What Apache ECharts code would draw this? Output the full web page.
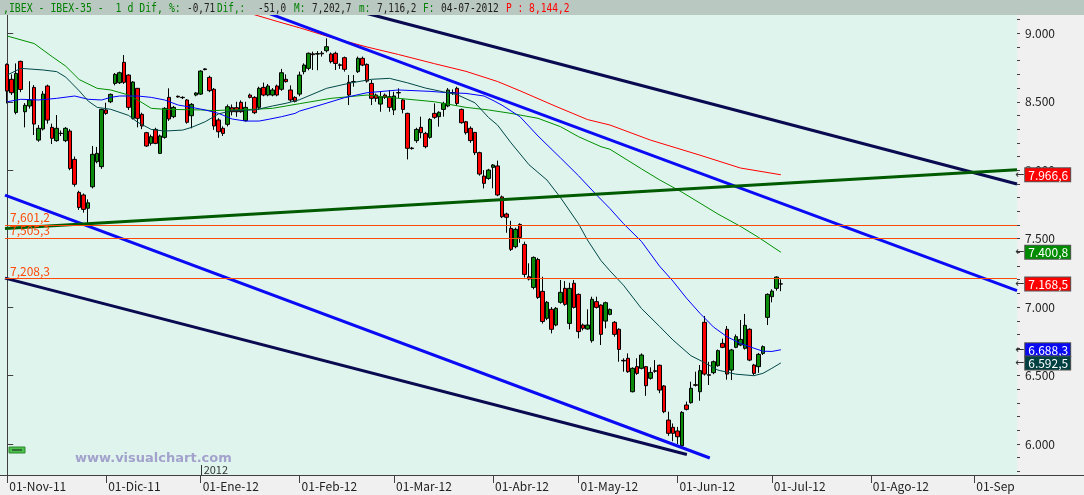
<!DOCTYPE html>
<html><head><meta charset="utf-8">
<script src="https://cdn.jsdelivr.net/npm/echarts@6.0.0/dist/echarts.min.js"></script>
<style>html,body{margin:0;padding:0;background:#F0F0F0}#c{width:1084px;height:495px}</style>
</head><body><div id="c"></div>
<script>
// ---------- DATA ----------
const holidays = ['2011-12-26','2012-04-06','2012-04-09','2012-05-01'];
const slotCount = 225;
const monthNames = ['Ene','Feb','Mar','Abr','May','Jun','Jul','Ago','Sep','Oct','Nov','Dic'];

const opens  = [8773,8664,8422,8795,8427,8469,8605,8220,8301,8615,8313,8216,8270,8216,8286,8079,7838,7819,7722,7879,8062,8026,8440,8500,8634,8639,8788,8695,8379,8598,8408,8274,8196,8298,8123,8240,8532,8391,8540,8532,8513,8398,8549,8556,8740,8678,8591,8367,8306,8335,8457,8457,8496,8362,8549,8532,8459,8605,8549,8549,8615,8591,8664,8586,8532,8556,8720,8744,8850,8848,8855,8873,8849,8854,8770,8822,8642,8648,8720,8817,8773,8634,8549,8483,8549,8537,8440,8567,8513,8415,8162,8216,8313,8269,8240,8415,8391,8444,8469,8567,8598,8444,8354,8306,8276,8128,7957,7940,8021,8031,7805,7680,7575,7441,7604,7458,7222,7144,7348,7115,6918,6984,6869,7035,7137,6881,7174,7093,6869,6840,6755,7040,7015,6898,6947,6889,6838,6611,6626,6382,6565,6553,6565,6480,6535,6575,6424,6175,6122,6095,5988,6285,6302,6433,6382,6889,6506,6521,6572,6735,6838,6540,6706,6723,6699,6838,6577,6565,6662,6925,7076,7137,7170];
const highs  = [8780,8700,8780,8800,8490,8650,8622,8330,8578,8625,8340,8403,8290,8315,8300,8100,7850,7830,7787,8177,8170,8450,8493,8560,8710,8720,8841,8700,8650,8600,8420,8280,8260,8310,8260,8460,8598,8470,8545,8540,8520,8490,8570,8730,8745,8690,8600,8380,8320,8480,8480,8500,8510,8500,8560,8540,8610,8640,8630,8600,8625,8740,8700,8620,8540,8720,8780,8860,8866,8870,8870,8963,8860,8866,8780,8830,8695,8695,8830,8830,8780,8659,8560,8573,8560,8586,8573,8598,8520,8420,8170,8310,8391,8280,8380,8488,8430,8500,8600,8590,8610,8450,8360,8320,8280,8135,8001,8010,8045,8070,7815,7690,7630,7580,7612,7478,7320,7370,7360,7222,7045,7000,7000,7198,7190,7178,7198,7100,6880,6984,7076,7076,7020,7040,6990,6898,6845,6626,6662,6560,6626,6662,6570,6560,6613,6580,6430,6236,6150,6125,6240,6310,6455,6528,6577,6935,6600,6610,6690,6770,6862,6695,6800,6906,6950,6845,6585,6665,6720,7100,7130,7225,7202.7];
const lows   = [8488,8550,8408,8570,8313,8450,8257,8208,8290,8340,8191,8208,8250,8205,8000,7880,7710,7690,7601,7867,8050,8010,8405,8490,8620,8630,8630,8440,8370,8313,8300,8170,8180,8190,8120,8230,8360,8380,8530,8520,8340,8306,8540,8550,8730,8570,8295,8237,8250,8320,8400,8390,8420,8355,8525,8410,8440,8540,8540,8540,8540,8580,8640,8500,8495,8540,8700,8730,8732,8730,8830,8860,8780,8732,8740,8720,8476,8610,8710,8760,8640,8476,8500,8427,8520,8427,8403,8525,8415,8079,8150,8200,8233,8160,8230,8375,8318,8391,8460,8550,8470,8340,8260,8200,8111,7960,7867,7930,7868,7810,7650,7543,7410,7430,7470,7217,7195,7130,7060,6880,6905,6808,6860,7025,7010,6838,6990,6772,6830,6835,6740,6990,6723,6845,6940,6784,6601,6528,6520,6377,6505,6545,6352,6470,6520,6371,6225,6060,6020,6000,5980,6245,6295,6420,6316,6500,6431,6510,6565,6700,6470,6467,6700,6715,6690,6605,6504,6520,6650,6869,7035,7120,7116.2];
const closes = [8578,8566,8707,8590,8474,8513,8337,8306,8556,8366,8233,8306,8268,8306,8013,7897,7728,7714,7762,8116,8123,8444,8415,8554,8700,8712,8642,8459,8644,8379,8323,8177,8245,8196,8250,8452,8374,8459,8535,8530,8350,8481,8564,8724,8735,8581,8323,8281,8269,8464,8427,8427,8427,8459,8532,8420,8598,8549,8615,8586,8549,8712,8647,8513,8503,8695,8768,8854,8844,8852,8850,8902,8793,8780,8766,8737,8549,8646,8817,8768,8651,8525,8525,8537,8532,8459,8542,8565,8444,8160,8158,8298,8274,8172,8371,8386,8423,8488,8586,8565,8488,8347,8274,8216,8128,7972,7904,8001,8038,7819,7660,7656,7422,7568,7509,7239,7205,7363,7071,6895,7035,6838,6991,7108,7020,7137,6998,6821,6845,6869,7057,6998,6801,7032,6983,6801,6691,6607,6528,6553,6516,6650,6426,6523,6531,6394,6236,6078,6078,6053,6231,6253,6407,6429,6536,6511,6502,6601,6682,6706,6511,6687,6784,6764,6867,6613,6516,6655,6711,7093,7117,7219.5,7168.5];

// moving averages: [trading-day index, value]
const maRed = [[54,9145],[60,9087],[65,9040],[72,8970],[80,8900],[87,8845],[95,8778],[102,8722],[109,8648],[114,8580],[122,8466],[129,8370],[134,8330],[143,8220],[154,8110],[163,8016],[172,7966.6]];
const maGreen = [[0,8980],[6,8925],[10,8829],[13,8760],[16,8662],[20,8598],[23,8586],[27,8549],[30,8493],[32,8452],[35,8445],[43,8440],[46,8435],[49,8440],[55,8445],[59,8452],[62,8469],[65,8486],[72,8525],[80,8549],[87,8525],[95,8500],[102,8459],[107,8440],[112,8415],[118,8379],[123,8318],[127,8245],[132,8172],[134,8153],[141,8010],[145,7930],[150,7840],[154,7760],[158,7680],[163,7590],[167,7510],[172,7400.8]];
const maBlue = [[0,8500],[3,8518],[7,8513],[11,8525],[15,8542],[18,8518],[21,8513],[23,8532],[25,8542],[29,8542],[32,8532],[35,8513],[38,8476],[41,8459],[44,8440],[47,8415],[50,8374],[53,8359],[56,8359],[58,8371],[61,8391],[64,8415],[65,8432],[70,8480],[75,8530],[80,8566],[87,8586],[94,8576],[98,8566],[102,8561],[106,8542],[108,8510],[110,8475],[114,8391],[118,8250],[123,8090],[127,7960],[131,7820],[134,7720],[137,7610],[141,7480],[145,7300],[148,7190],[151,7066],[154,6955],[157,6855],[160,6784],[163,6735],[166,6700],[168,6678],[170,6676],[172,6688.3]];
const maTeal = [[0,8695],[3,8744],[8,8732],[11,8720],[13,8680],[16,8580],[18,8505],[20,8459],[23,8445],[27,8400],[29,8350],[32,8298],[35,8286],[39,8293],[41,8313],[44,8354],[47,8412],[50,8435],[55,8440],[59,8469],[62,8489],[65,8515],[71,8598],[76,8635],[81,8664],[85,8671],[89,8638],[93,8600],[97,8572],[100,8552],[104,8492],[107,8385],[109,8330],[112,8200],[116,8040],[120,7928],[123,7800],[127,7610],[129,7490],[132,7340],[134,7265],[137,7160],[141,6990],[145,6860],[148,6760],[152,6645],[155,6595],[158,6540],[162,6510],[166,6499],[168,6516],[170,6553],[172,6592.5]];

// drawn trend lines: [index, value] end points
const trendNavyUpper = [[80,9145],[224.5,7899]];
const trendNavyLower = [[-0.5,7212],[151.1,5923]];
const trendBlueUpper = [[58,9147],[224.5,7120]];
const trendBlueLower = [[-0.5,7818],[156.2,5898]];
const trendGreen = [[-0.5,7574],[224.5,8004]];

const levelLines = [7601.2, 7505.3, 7208.3];
const levelLabels = ['7,601,2', '7,505,3', '7,208,3'];

const yMajorTicks = [6000,6500,7000,7500,8000,8500,9000];
const yMinorTicks = [5800,5900,6000,6100,6200,6300,6400,6500,6600,6700,6800,6900,7000,7100,7200,7300,7400,7500,7600,7700,7800,7900,8000,8100,8200,8300,8400,8500,8600,8700,8800,8900,9000,9100];

const headerParts = [[',IBEX - IBEX-35 -  1 d Dif, %:','#008000'],['-0,71','#202020'],['Dif,:','#008000'],['-51,0','#202020'],['M:','#008000'],['7,202,7','#202020'],['m:','#008000'],['7,116,2','#202020'],['F:','#008000'],['04-07-2012','#202020'],['P : 8,144,2','#FF0000']];
const headerX = [3,187,217,258,294,312,359,377,423,441,506];
const headerScale = [0.82,0.78,0.78,0.78,0.78,0.78,0.78,0.78,0.78,0.8,0.8];

// ---------- BUILD ----------
const FONT = "'Noto Sans CJK KR','Noto Sans',sans-serif";
function buildDays(){
  const out=[]; const d=new Date(Date.UTC(2011,10,1));
  while(out.length<slotCount){
    const wd=d.getUTCDay(); const iso=d.toISOString().slice(0,10);
    if(wd!==0&&wd!==6&&holidays.indexOf(iso)<0) out.push(iso);
    d.setUTCDate(d.getUTCDate()+1);
  }
  return out;
}
const days = buildDays();
const monthStart = days.map((s,i)=> i===0 || s.slice(0,7)!==days[i-1].slice(0,7));
function dayLabel(s){ const m=+s.slice(5,7); return '01-'+monthNames[m-1]+'-'+s.slice(2,4); }
function fmtBox(v){ const s=v.toFixed(1); const [ip,dp]=s.split('.'); return ip.slice(0,ip.length-3)+'.'+ip.slice(-3)+','+dp; }
function fmtAxis(v){ return Math.floor(v/1000)+'.'+String(v%1000).padStart(3,'0'); }

const candleData = opens.map((o,i)=>[o, closes[i], lows[i], highs[i]]);
const Y_MIN = 5773.6, Y_MAX = 9133.7;

function endBox(value, bg){
  return {
    yAxis: value,
    lineStyle:{color:'rgba(0,0,0,0)', width:0},
    label:{show:true, position:'end', distance:-2,
      formatter:'{a|←}{b|'+fmtBox(value)+'}',
      rich:{
        a:{color:'#333', fontSize:11, fontFamily:'DejaVu Sans', padding:[0,1,0,0]},
        b:{color:'#fff', backgroundColor:bg, borderColor:'#555', borderWidth:1, padding:[1,2,0,3], fontSize:12, fontFamily:FONT, lineHeight:12}
      }}
  };
}
function maSeries(data, color, boxColor){
  const last = data[data.length-1][1];
  return {type:'line', xAxisIndex:1, yAxisIndex:0, data:data, showSymbol:false, symbol:'none', clip:false, z:3,
    lineStyle:{color:color, width:1}, silent:true,
    markLine:{silent:true, symbol:['none','none'], animation:false, data:[endBox(last, boxColor)]}};
}
function trendSeries(data, color){
  return {type:'line', xAxisIndex:1, yAxisIndex:0, data:data, showSymbol:false, symbol:'none', clip:true, z:4,
    lineStyle:{color:color, width:3}, silent:true};
}

const chart = echarts.init(document.getElementById('c'), null, {renderer:'canvas'});
const option = {
  animation:false,
  backgroundColor:'#F0F0F0',
  grid:{left:5, right:67, top:15, bottom:20, containLabel:false},
  xAxis:[
    {type:'category', data:days, boundaryGap:true,
      axisLine:{show:true, lineStyle:{color:'#404040', width:1}},
      axisTick:{show:true, alignWithLabel:true, interval:(i)=>monthStart[i], length:8, lineStyle:{color:'#404040'}},
      axisLabel:{show:true, interval:(i)=>monthStart[i], formatter:dayLabel, align:'left', margin:5, padding:[0,0,0,2],
        color:'#222', fontFamily:FONT, fontSize:12},
      splitLine:{show:false}},
    {type:'value', min:-0.5, max:slotCount-0.5, show:false}
  ],
  yAxis:[
    {type:'value', position:'right', min:Y_MIN, max:Y_MAX, scale:true,
      axisLine:{show:true, lineStyle:{color:'#404040'}},
      axisTick:{show:true, customValues:yMajorTicks, length:6, lineStyle:{color:'#404040'}},
      axisLabel:{show:true, customValues:yMajorTicks, formatter:fmtAxis, margin:8, color:'#222', fontFamily:FONT, fontSize:12},
      splitLine:{show:false}},
    {type:'value', position:'right', min:Y_MIN, max:Y_MAX, scale:true,
      axisLine:{show:false},
      axisTick:{show:true, customValues:yMinorTicks, length:3, lineStyle:{color:'#404040'}},
      axisLabel:{show:false, customValues:yMinorTicks},
      splitLine:{show:false}}
  ],
  series:[
    {type:'candlestick', xAxisIndex:0, yAxisIndex:0, data:candleData, barWidth:4, z:2, clip:false,
      itemStyle:{color:'#0A8C0A', color0:'#FF0000', borderColor:'#000', borderColor0:'#000', borderWidth:1},
      markLine:{silent:true, symbol:['none','none'], animation:false,
        data: levelLines.map((v,i)=>({yAxis:v, lineStyle:{color:'#FF4A0A', width:1, type:'solid'},
          label:{show:true, position:'insideStartTop', distance:[5,1], formatter:levelLabels[i], color:'#FF4A0A', fontFamily:FONT, fontSize:12}}))
          .concat([endBox(closes[closes.length-1], '#FF0000')])}},
    maSeries(maRed, '#FF0000', '#FF0000'),
    maSeries(maGreen, '#009000', '#008C00'),
    maSeries(maBlue, '#0000FF', '#0A0AF0'),
    maSeries(maTeal, '#004848', '#004040'),
    trendSeries(trendNavyUpper, '#0A0A50'),
    trendSeries(trendNavyLower, '#0A0A50'),
    trendSeries(trendBlueUpper, '#0A0AF5'),
    trendSeries(trendBlueLower, '#0A0AF5'),
    trendSeries(trendGreen, '#005A00')
  ],
  graphic:[]
};
chart.setOption(option);

// decorations
const jan = days.findIndex(s=>s.slice(0,4)==='2012');
const janX = chart.convertToPixel({xAxisIndex:0}, days[jan]);
const g = [
  {type:'rect', z:-10, silent:true, shape:{x:0,y:15,width:1017,height:460}, style:{fill:'#E0F4EE'}},
  {type:'rect', z:100, silent:true, shape:{x:0,y:0,width:1084,height:15}, style:{fill:'#BAC8C2'}},
  {type:'rect', z:100, silent:true, shape:{x:1014,y:476,width:70,height:19}, style:{fill:'#F0F0F0'}},
  {type:'line', z:100, silent:true, shape:{x1:1017,y1:475.5,x2:1084,y2:475.5}, style:{stroke:'#404040', lineWidth:1}},
  {type:'line', z:100, silent:true, shape:{x1:0,y1:475.5,x2:5,y2:475.5}, style:{stroke:'#404040', lineWidth:1}},
  {type:'text', z:50, silent:true, style:{x:75, y:459, text:'www.visualchart.com', font:'bold 13px "DejaVu Sans"', fill:'#A2A2CC', verticalAlign:'middle'}},
  {type:'rect', z:50, silent:true, shape:{x:9,y:447,width:16,height:6}, style:{fill:'#4CC04C', stroke:'#2A8A2A', lineWidth:1}},
  {type:'line', z:51, silent:true, shape:{x1:12,y1:450,x2:22,y2:450}, style:{stroke:'#1A1A1A', lineWidth:1}},
  {type:'line', z:50, silent:true, shape:{x1:Math.round(janX)+0.5,y1:465,x2:Math.round(janX)+0.5,y2:475}, style:{stroke:'#333', lineWidth:1}},
  {type:'text', z:50, silent:true, style:{x:janX+3, y:470, text:'2012', font:'11px '+FONT, fill:'#333', verticalAlign:'middle'}}
];
headerParts.forEach((p,i)=>{
  g.push({type:'text', z:101, silent:true, x:headerX[i], y:9, scaleX:headerScale[i],
    style:{x:0, y:0, text:p[0], font:'12px "DejaVu Sans Mono"', fill:p[1], verticalAlign:'middle'}});
});
chart.setOption({graphic:g});
</script></body></html>
